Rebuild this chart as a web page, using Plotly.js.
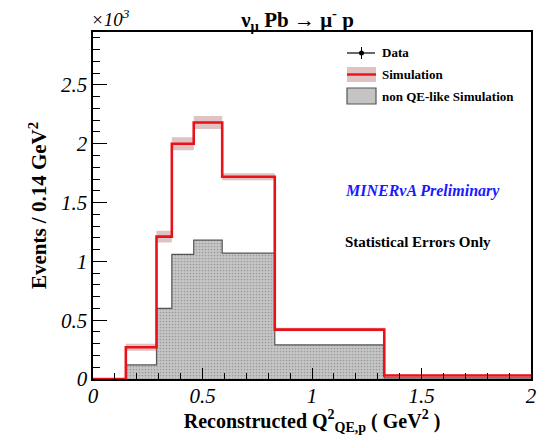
<!DOCTYPE html>
<html><head><meta charset="utf-8">
<script src="https://cdn.plot.ly/plotly-3.0.1.min.js"></script>
<style>html,body{margin:0;padding:0;background:#fff}#c{width:543px;height:435px}</style>
</head><body><div id="c"></div>
<script>
// bin edges of reconstructed Q2 (GeV^2)
const binEdges = [0, 0.15, 0.29, 0.36, 0.46, 0.59, 0.83, 1.33, 2.0];
// events / 0.14 GeV^2 (x10^3)
const simulation = [0.0, 0.27, 1.21, 2.0, 2.18, 1.72, 0.42, 0.03];
const simulationErr = [0.0, 0.03, 0.05, 0.055, 0.055, 0.03, 0.015, 0.006];
const nonQElike = [0.0, 0.12, 0.6, 1.06, 1.18, 1.07, 0.29, 0.01];
const xTickVals = [0, 0.5, 1, 1.5, 2];
const xTickText = ['0', '0.5', '1', '1.5', '2'];
const yTickVals = [0, 0.5, 1, 1.5, 2, 2.5];
const yTickText = ['0', '0.5', '1', '1.5', '2', '2.5'];

function steps(vals){ return vals.concat([vals[vals.length-1]]); }
const lower = simulation.map((v,i)=>v-simulationErr[i]);
const upper = simulation.map((v,i)=>v+simulationErr[i]);

const serif = 'Liberation Serif, Times New Roman, serif';

const traces = [
  {x: binEdges, y: steps(nonQElike), type:'scatter', mode:'lines', line:{shape:'hv', color:'#555', width:1.2},
   fill:'tozeroy', fillcolor:'#c4c4c4', fillpattern:{shape:'.', bgcolor:'#c6c6c6', fgcolor:'#9a9a9a', size:3, solidity:0.25}, hoverinfo:'skip'},
  {x: binEdges, y: steps(lower), type:'scatter', mode:'lines', line:{shape:'hv', width:0, color:'rgba(0,0,0,0)'}, hoverinfo:'skip'},
  {x: binEdges, y: steps(upper), type:'scatter', mode:'lines', line:{shape:'hv', width:0, color:'rgba(0,0,0,0)'},
   fill:'tonexty', fillcolor:'rgba(185,120,120,0.45)', hoverinfo:'skip'},
  {x: binEdges, y: steps(simulation), type:'scatter', mode:'lines', line:{shape:'hv', color:'#e8121a', width:2.6}, hoverinfo:'skip'}
];

const layout = {
  width:543, height:435,
  margin:{l:93, r:12, t:32, b:56},
  paper_bgcolor:'#fff', plot_bgcolor:'#fff',
  showlegend:false,
  font:{family:serif, color:'#000'},
  title:{text:'<b>ν<sub>μ</sub> Pb → μ<sup>-</sup> p</b>', x:0.548, xanchor:'center', y:0.955, yanchor:'middle', font:{size:21, family:serif}},
  xaxis:{range:[0,2], tickvals:xTickVals, ticktext:xTickText, ticks:'inside', ticklen:11, tickwidth:1, tickcolor:'#000',
    minor:{dtick:0.1, ticks:'inside', ticklen:6, tickcolor:'#000'},
    showgrid:false, zeroline:false, showline:true, linecolor:'#000', linewidth:1.6, mirror:true,
    tickfont:{size:21, family:serif, style:'italic'}, ticklabelstandoff:-3,
    title:{text:'<b>Reconstructed Q<sup>2</sup><sub>QE,p</sub> ( GeV<sup>2</sup> )</b>', font:{size:20, family:serif}, standoff:5}},
  yaxis:{range:[0,2.95], tickvals:yTickVals, ticktext:yTickText, ticks:'inside', ticklen:14, tickwidth:1, tickcolor:'#000',
    minor:{dtick:0.1, ticks:'inside', ticklen:7, tickcolor:'#000'},
    showgrid:false, zeroline:false, showline:true, linecolor:'#000', linewidth:1.6, mirror:true,
    tickfont:{size:21, family:serif, style:'italic'},
    title:{text:'<b>Events / 0.14 GeV<sup>2</sup></b>', font:{size:21, family:serif}, standoff:8}},
  shapes:[
    // legend: Data
    {type:'line', xref:'paper', yref:'paper', x0:(347-93)/438, x1:(375-93)/438, y0:(379-53)/347, y1:(379-53)/347, line:{color:'#000', width:1.2}},
    {type:'circle', xref:'paper', yref:'paper', x0:(359-93)/438, x1:(364-93)/438, y0:(379-55.5)/347, y1:(379-50.5)/347, fillcolor:'#000', line:{color:'#000', width:0}},
    {type:'line', xref:'paper', yref:'paper', x0:(361.5-93)/438, x1:(361.5-93)/438, y0:(379-59)/347, y1:(379-47)/347, line:{color:'#000', width:1}},
    // legend: Simulation
    {type:'rect', xref:'paper', yref:'paper', x0:(347-93)/438, x1:(376-93)/438, y0:(379-82)/347, y1:(379-67)/347, fillcolor:'rgba(185,120,120,0.45)', line:{width:0}},
    {type:'line', xref:'paper', yref:'paper', x0:(347-93)/438, x1:(376-93)/438, y0:(379-74.5)/347, y1:(379-74.5)/347, line:{color:'#e8121a', width:2.4}},
    // legend: non QE-like
    {type:'rect', xref:'paper', yref:'paper', x0:(347-93)/438, x1:(376-93)/438, y0:(379-104)/347, y1:(379-88)/347, fillcolor:'#c4c4c4', line:{color:'#555', width:1.2}}
  ],
  annotations:[
    {text:'<i>×10<sup>3</sup></i>', xref:'paper', yref:'paper', x:-0.01, y:(379-18)/347, xanchor:'left', yanchor:'middle', showarrow:false, font:{size:19, family:serif}},
    {text:'<b>Data</b>', xref:'paper', yref:'paper', x:(380-93)/438, y:(379-53)/347, xanchor:'left', yanchor:'middle', showarrow:false, font:{size:13, family:serif}},
    {text:'<b>Simulation</b>', xref:'paper', yref:'paper', x:(380-93)/438, y:(379-74)/347, xanchor:'left', yanchor:'middle', showarrow:false, font:{size:13, family:serif}},
    {text:'<b>non QE-like Simulation</b>', xref:'paper', yref:'paper', x:(380-93)/438, y:(379-96)/347, xanchor:'left', yanchor:'middle', showarrow:false, font:{size:13, family:serif}},
    {text:'<b><i>MINERνA Preliminary</i></b>', xref:'paper', yref:'paper', x:(343-93)/438, y:(379-191)/347, xanchor:'left', yanchor:'middle', showarrow:false, font:{size:16, family:serif, color:'#1a1aff'}},
    {text:'<b>Statistical Errors Only</b>', xref:'paper', yref:'paper', x:(343-93)/438, y:(379-242)/347, xanchor:'left', yanchor:'middle', showarrow:false, font:{size:15, family:serif}}
  ]
};
Plotly.newPlot('c', traces, layout, {staticPlot:true, displayModeBar:false});
</script></body></html>
